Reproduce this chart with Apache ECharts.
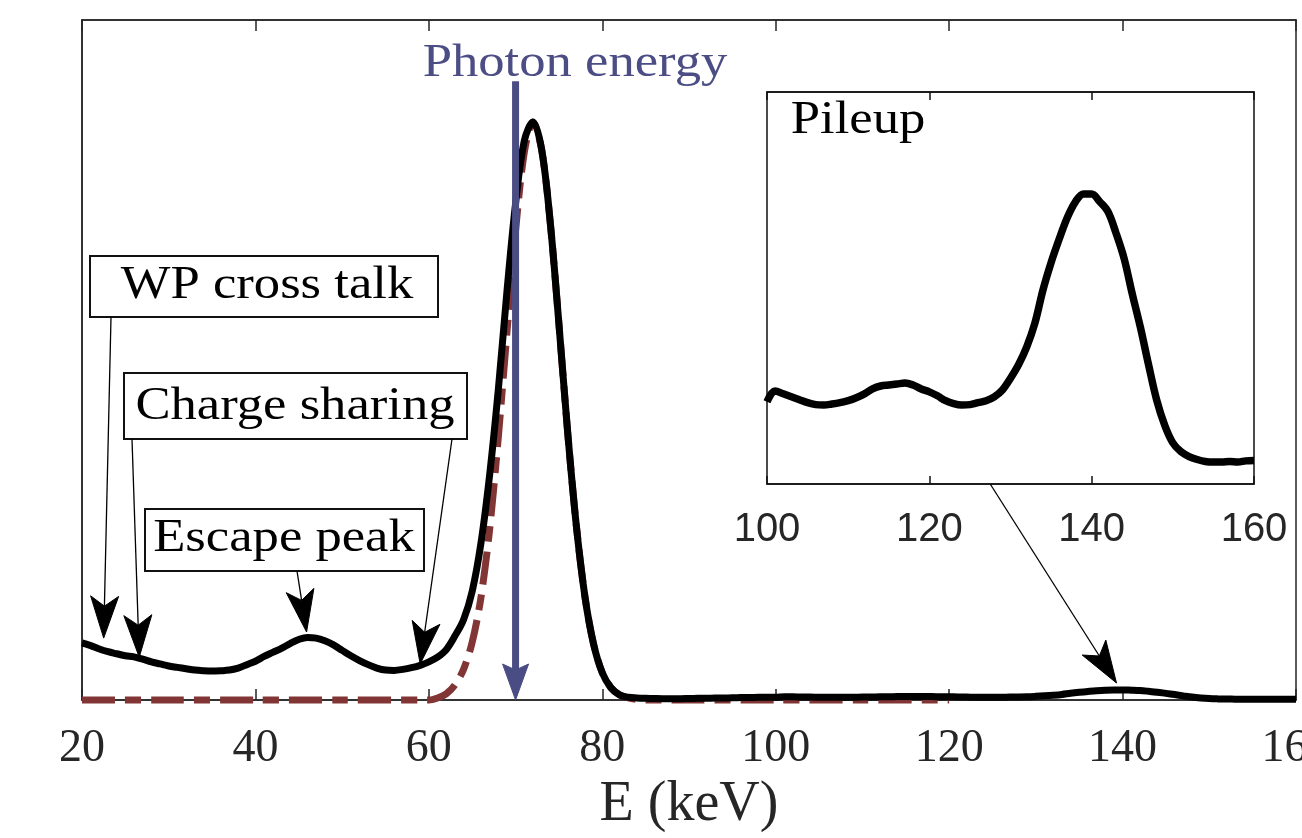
<!DOCTYPE html>
<html>
<head>
<meta charset="utf-8">
<script src="https://cdn.jsdelivr.net/npm/echarts@6/dist/echarts.min.js"></script>
<style>
html,body{margin:0;padding:0;background:#fff;}
#c{width:1302px;height:838px;}
</style>
</head>
<body>
<div id="c"></div>
<script>
// ---------- data ----------
const energyKeV = [
  20,21,22,23,24,25,26,27,28,29,
  30,31,32,33,34,35,36,37,38,39,
  40,41,42,43,44,45,46,47,48,49,
  50,51,52,53,54,55,56,57,58,59,
  60,61,62,63,64,65,66,67,68,69,
  70,71,72,73,74,75,76,77,78,79,
  80,81,82,83,84,85,86,87,88,89,
  90,91,92,93,94,95,96,97,98,99,
  100,101,102,103,104,105,106,107,108,109,
  110,111,112,113,114,115,116,117,118,119,
  120,121,122,123,124,125,126,127,128,129,
  130,131,132,133,134,135,136,137,138,139,
  140,141,142,143,144,145,146,147,148,149,
  150,151,152,153,154,155,156,157,158,159,
  160
];
const measuredCounts = [
  8.4,8.0,7.5,7.1,6.8,6.5,6.35,6.0,5.6,5.3,
  5.0,4.8,4.6,4.4,4.3,4.25,4.3,4.4,4.7,5.2,
  5.7,6.4,7.0,7.6,8.3,8.9,9.2,9.1,8.7,8.1,
  7.3,6.5,5.8,5.2,4.7,4.4,4.35,4.5,4.75,5.1,
  5.6,6.3,7.4,9.4,11.8,16,23,33,45.5,60,
  73,82.2,85,81,70.2,55.3,39.5,25.7,15.2,8.2,
  4.0,1.8,0.75,0.4,0.3,0.25,0.22,0.2,0.2,0.2,
  0.22,0.24,0.26,0.28,0.3,0.32,0.35,0.37,0.4,0.42,
  0.42,0.475,0.46,0.445,0.43,0.415,0.405,0.403,0.408,0.415,
  0.425,0.44,0.46,0.485,0.5,0.505,0.51,0.515,0.505,0.485,
  0.47,0.45,0.425,0.41,0.403,0.405,0.415,0.425,0.445,0.48,
  0.54,0.61,0.7,0.82,0.99,1.13,1.25,1.36,1.44,1.48,
  1.48,1.44,1.39,1.28,1.15,0.97,0.8,0.61,0.43,0.3,
  0.21,0.165,0.14,0.125,0.115,0.112,0.112,0.115,0.112,0.118,
  0.12
];
const idealEnergyKeV = [20,30,40,50,60,61,62,63,64,65,66,67,68,69,70,71,72,73,74,75,76,77,78,79,80,81,82,83,84,85,90,100,110,120];
const idealCounts    = [0,0,0,0,0,0.3,0.9,2.2,4.5,8.5,15,25,38.5,54,69,80.5,85,81,70.2,55.3,39.5,25.7,15.2,8.2,4.0,1.8,0.75,0.3,0.1,0,0,0,0,0];
const insetRangeKeV = [100, 160];
const photonEnergyKeV = 70;

// ---------- annotation layout ----------
const serif = "'Liberation Serif','DejaVu Serif',serif";
const sans = "'Liberation Sans',Arial,sans-serif";
const calloutBoxes = [
  {label:'WP cross talk',  rect:[90,256,348,61],  textAt:[267,286]},
  {label:'Charge sharing', rect:[124,373,343,66], textAt:[295,407]},
  {label:'Escape peak',    rect:[145,509,279,62], textAt:[284,539]}
];
const calloutArrows = [
  {from:[111,317], tipKeV:[22.5, 9.1]},
  {from:[132,439], tipKeV:[26.6, 6.3]},
  {from:[452,439], tipKeV:[59.0, 5.3]},
  {from:[297,571], tipKeV:[45.9, 10.0]}
];
const pileupArrow = {fromInsetKeV:[127.5, 0], tipKeV:[139.3, 2.5]};

const pairs = (xs, ys) => xs.map((x, i) => [x, ys[i]]);
const measured = pairs(energyKeV, measuredCounts);
const insetData = measured.filter(d => d[0] >= insetRangeKeV[0] && d[0] <= insetRangeKeV[1]);

const chart = echarts.init(document.getElementById('c'), null, {renderer:'canvas'});
const axisGrey = '#262626';

const option = {
  animation: false,
  backgroundColor: '#fff',
  grid: [
    {left:82, right:6, top:20, bottom:138, containLabel:false, outerBoundsMode:'none',
     show:true, borderColor:axisGrey, borderWidth:1.5, backgroundColor:'transparent'},
    {left:767, right:48, top:92, bottom:354, containLabel:false, outerBoundsMode:'none',
     show:true, borderColor:'#111', borderWidth:1.5, backgroundColor:'#fff', z:4}
  ],
  xAxis: [
    {gridIndex:0, type:'value', min:20, max:160, interval:20, position:'bottom', z:1,
     axisLine:{show:true, lineStyle:{color:axisGrey, width:1.5}},
     axisTick:{show:true, inside:true, length:11, lineStyle:{color:axisGrey, width:1.5}},
     axisLabel:{show:true, fontFamily:serif, fontSize:46, color:axisGrey, margin:26, showMinLabel:true, showMaxLabel:true, hideOverlap:false},
     splitLine:{show:false},
     name:'E (keV)', nameLocation:'middle', nameGap:74,
     nameTextStyle:{fontFamily:serif, fontSize:56, color:axisGrey}},
    {gridIndex:0, type:'value', min:20, max:160, interval:20, position:'top',
     axisLine:{show:true, lineStyle:{color:axisGrey, width:1.5}},
     axisTick:{show:true, inside:true, length:11, lineStyle:{color:axisGrey, width:1.5}},
     axisLabel:{show:false}, splitLine:{show:false}},
    {gridIndex:1, type:'value', min:insetRangeKeV[0], max:insetRangeKeV[1], interval:20, position:'bottom', z:5,
     axisLine:{show:true, lineStyle:{color:'#111', width:1.5}},
     axisTick:{show:true, inside:true, length:8, lineStyle:{color:'#111', width:1.5}},
     axisLabel:{show:true, fontFamily:sans, fontSize:40, color:axisGrey, margin:26, showMinLabel:true, showMaxLabel:true, hideOverlap:false},
     splitLine:{show:false}},
    {gridIndex:1, type:'value', min:insetRangeKeV[0], max:insetRangeKeV[1], interval:20, position:'top', z:5,
     axisLine:{show:true, lineStyle:{color:'#111', width:1.5}},
     axisTick:{show:true, inside:true, length:8, lineStyle:{color:'#111', width:1.5}},
     axisLabel:{show:false}, splitLine:{show:false}}
  ],
  yAxis: [
    {gridIndex:0, type:'value', min:0, max:100,
     axisLine:{show:true, lineStyle:{color:axisGrey, width:1.5}},
     axisTick:{show:false}, axisLabel:{show:false}, splitLine:{show:false}},
    {gridIndex:1, type:'value', min:0, max:2,
     axisLine:{show:false}, axisTick:{show:false}, axisLabel:{show:false}, splitLine:{show:false}}
  ],
  series: [
    {name:'Ideal', type:'line', xAxisIndex:0, yAxisIndex:0, data:pairs(idealEnergyKeV, idealCounts),
     symbol:'none', smooth:0.3, silent:true, z:2, clip:false,
     lineStyle:{color:'#823535', width:7, type:[33,10,16,10], cap:'butt', join:'round'}},
    {name:'Measured', type:'line', xAxisIndex:0, yAxisIndex:0, data:measured,
     symbol:'none', smooth:0.35, silent:true, z:3, clip:false,
     lineStyle:{color:'#000', width:7, cap:'butt', join:'round'}},
    {name:'Pileup', type:'line', xAxisIndex:2, yAxisIndex:1, data:insetData,
     symbol:'none', smooth:0.35, silent:true, z:6,
     lineStyle:{color:'#000', width:7.5, cap:'butt', join:'round'}}
  ]
};
chart.setOption(option);

// ---------- annotations ----------
function px(pt){ return chart.convertToPixel({xAxisIndex:0, yAxisIndex:0}, pt); }
function pxInset(pt){ return chart.convertToPixel({xAxisIndex:2, yAxisIndex:1}, pt); }
function arrowEls(p0, p1, headLen, headW, notch, lw, color){
  const dx = p1[0]-p0[0], dy = p1[1]-p0[1];
  const L = Math.hypot(dx, dy), ux = dx/L, uy = dy/L, nx = -uy, ny = ux;
  const base = [p1[0]-ux*headLen, p1[1]-uy*headLen];
  const nPt = [base[0]+ux*notch, base[1]+uy*notch];
  const left = [base[0]+nx*headW/2, base[1]+ny*headW/2];
  const right = [base[0]-nx*headW/2, base[1]-ny*headW/2];
  return [
    {type:'line', z:60, silent:true, shape:{x1:p0[0], y1:p0[1], x2:nPt[0], y2:nPt[1]}, style:{stroke:color, lineWidth:lw}},
    {type:'polygon', z:61, silent:true, shape:{points:[p1, left, nPt, right]}, style:{fill:color, stroke:color, lineWidth:1}}
  ];
}
function textEl(str, at, color, size){
  return {type:'text', z:62, silent:true, x:at[0], y:at[1], scaleX:1.12,
    style:{text:str, x:0, y:0, fontFamily:serif, fontSize:size, fill:color, align:'center', verticalAlign:'middle'}};
}
const g = [];
calloutBoxes.forEach(b => {
  g.push({type:'rect', z:58, silent:true, shape:{x:b.rect[0], y:b.rect[1], width:b.rect[2], height:b.rect[3]},
          style:{fill:'#fff', stroke:'#111', lineWidth:2}});
  g.push(textEl(b.label, b.textAt, '#000', 47));
});
calloutArrows.forEach(a => { g.push(...arrowEls(a.from, px(a.tipKeV), 42, 28, 10, 1.3, '#000')); });
g.push(...arrowEls(pxInset(pileupArrow.fromInsetKeV), px(pileupArrow.tipKeV), 42, 28, 10, 1.3, '#000'));
// photon energy arrow
g.push(...arrowEls(px([photonEnergyKeV, 91]), px([photonEnergyKeV, 0]), 36, 26, 6, 7, '#4a4c84'));
g.push(textEl('Photon energy', [575, 64], '#4b4d84', 47));
g.push(textEl('Pileup', [858, 121], '#000', 47));
chart.setOption({graphic: g});
</script>
</body>
</html>
